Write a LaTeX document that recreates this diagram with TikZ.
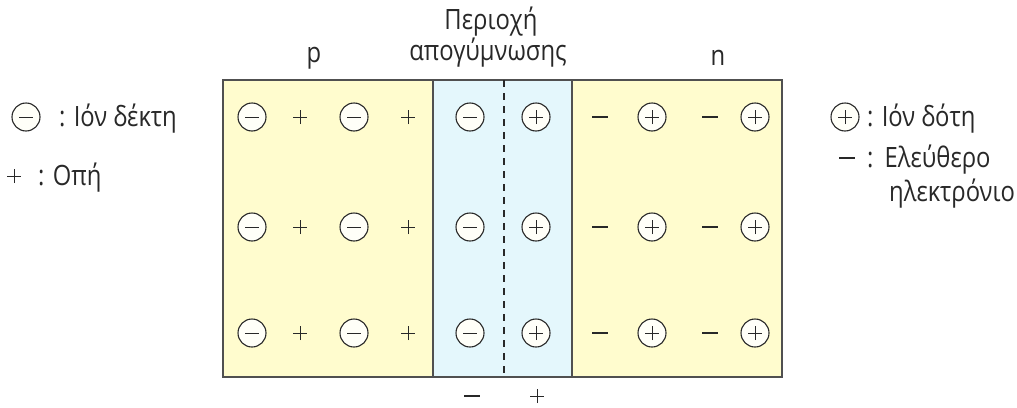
\documentclass[tikz,border=0pt]{standalone}
\usepackage{fontspec}
\setmainfont{Open Sans}[FakeStretch=0.85]
\definecolor{pyellow}{RGB}{255,252,206}
\definecolor{pblue}{RGB}{228,247,252}
\definecolor{edge}{RGB}{80,80,80}
\definecolor{ink}{RGB}{40,40,40}
\tikzset{
  ion/.style={circle,draw=ink,line width=1.1pt,minimum size=28pt,inner sep=0pt,fill=white!85!pyellow},
  acc/.style={ion,path picture={\draw[ink,line width=1pt]([xshift=-7pt]path picture bounding box.center)--([xshift=7pt]path picture bounding box.center);}},
  don/.style={ion,path picture={\draw[ink,line width=1pt]([xshift=-7pt]path picture bounding box.center)--([xshift=7pt]path picture bounding box.center) ([yshift=-7pt]path picture bounding box.center)--([yshift=7pt]path picture bounding box.center);}},
  hole/.style={minimum size=16pt,inner sep=0pt,path picture={\draw[ink,line width=1pt]([xshift=-7pt]path picture bounding box.center)--([xshift=7pt]path picture bounding box.center) ([yshift=-7pt]path picture bounding box.center)--([yshift=7pt]path picture bounding box.center);}},
  elec/.style={minimum size=18pt,inner sep=0pt,path picture={\draw[ink,line width=1.2pt]([xshift=-8pt]path picture bounding box.center)--([xshift=8pt]path picture bounding box.center);}},
  lbl/.style={font=\fontsize{28}{30}\selectfont,text=ink,inner sep=0pt},
}
\begin{document}
\begin{tikzpicture}[x=1pt,y=-1pt]
\useasboundingbox (0,0) rectangle (1017,407);
% regions
\fill[pyellow] (223,80) rectangle (782,377);
\fill[pblue] (433,80) rectangle (572,377);
\draw[edge,line width=1.5pt] (433,80) -- (433,377) (572,80) -- (572,377);
\draw[edge,line width=1.7pt] (223,80) rectangle (782,377);
\coordinate (dtop) at (504,80);
\coordinate (dbot) at (504,377);
\draw[ink,line width=1.4pt,dash pattern=on 7pt off 6pt] (dtop) -- (dbot);
% charges
\foreach \r/\y in {1/117,2/227,3/333}{
  \node[acc]  (a1\r) at (252,\y) {};
  \node[hole] (h1\r) at (300,\y) {};
  \node[acc]  (a2\r) at (354,\y) {};
  \node[hole] (h2\r) at (408,\y) {};
  \node[acc]  (a3\r) at (470,\y) {};
  \node[don]  (d3\r) at (536,\y) {};
  \node[elec] (e1\r) at (600,\y) {};
  \node[don]  (d1\r) at (652,\y) {};
  \node[elec] (e2\r) at (710,\y) {};
  \node[don]  (d2\r) at (755,\y) {};
}
% labels on top
\node[lbl] (lp) at (314,58) {p};
\node[lbl] (ln) at (718,58) {n};
\node[lbl] (ldep1) at (491,22) {Περιοχή};
\node[lbl] (ldep2) at (488,53) {απογύμνωσης};
% bottom signs
\node[elec] (bm) at (472,396) {};
\node[hole] (bp) at (537,396) {};
% left legend
\node[acc] (legacc) at (26,117) {};
\node[lbl,anchor=west] (legacct) at (59,119) {: Ιόν δέκτη};
\node[hole] (leghole) at (14,176) {};
\node[lbl,anchor=west] (legholet) at (38,178) {: Οπή};
% right legend
\node[don] (legdon) at (845,117) {};
\node[lbl,anchor=west] (legdont) at (867,119) {: Ιόν δότη};
\node[elec] (legel) at (847,158) {};
\node[lbl,anchor=west] (legelt) at (867,160) {:\hspace{0.4em}Ελεύθερο};
\node[lbl,anchor=west] (legelt2) at (889,194) {ηλεκτρόνιο};
\end{tikzpicture}
\end{document}
